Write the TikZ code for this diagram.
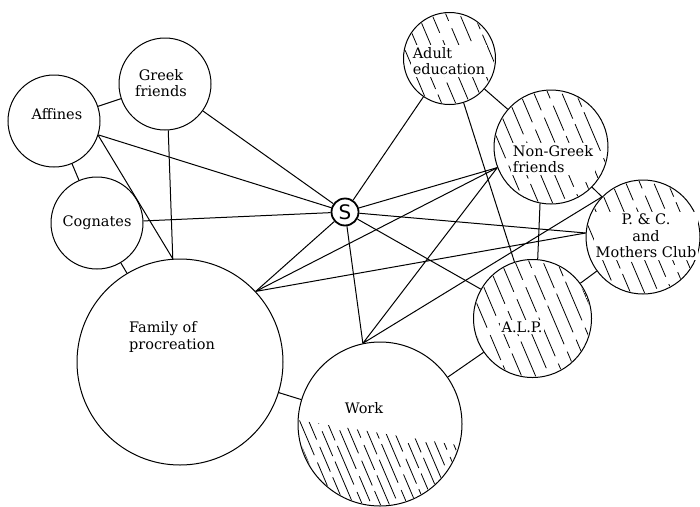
\documentclass[tikz,border=0pt]{standalone}
\usepackage{fontspec}
\setmainfont{DejaVu Serif}
\setsansfont{DejaVu Sans}

\begin{document}
\begin{tikzpicture}[x=1pt,y=-1pt,line width=1pt,
  grp/.style={draw,circle,inner sep=0pt},
  lbl/.style={font=\fontsize{14.5}{16.5}\selectfont,inner sep=1pt},
  hlbl/.style={lbl,fill=white,inner sep=2pt},
  hatch/.style={line width=0.8pt,dash pattern=on 42pt off 8pt on 27pt off 6pt}]
\useasboundingbox (0,0) rectangle (700,506);
\node[grp,minimum size=92pt] (aff) at (54,121) {};
\node[grp,minimum size=92pt] (grf) at (165,84) {};
\node[grp,minimum size=92pt] (cog) at (97,223) {};
\node[grp,minimum size=206pt] (fam) at (180,362) {};
\node[grp,minimum size=164pt] (wrk) at (380,424) {};
\node[grp,minimum size=92pt] (adu) at (449.5,58.5) {};
\node[grp,minimum size=114pt] (ngf) at (551,147) {};
\node[grp,minimum size=114pt] (pcm) at (643,237) {};
\node[grp,minimum size=118pt] (alp) at (532.5,318.5) {};
\node[grp,line width=1.8pt,minimum size=27pt,font=\sffamily\fontsize{20}{20}\selectfont] (s) at (345,212) {S};

\foreach \n/\r in {adu/45,ngf/56,pcm/56,alp/58}{
  \begin{scope}
  \clip (\n.center) circle (\r);
  \foreach \d [count=\i] in {-116,-102,...,62}
    \draw[hatch,dash phase=\i*13pt] (\n.center) ++(\d,-\r) -- ++(0.85*\r,2*\r);
  \end{scope}}
\begin{scope}
\clip (wrk.center) circle (81);
\clip (290,419) -- (470,447) -- (470,510) -- (290,510) -- cycle;
\foreach \d [count=\i] in {-150,-141,...,80}
  \draw[hatch,dash phase=\i*17pt] (wrk.center) ++(\d,-82) -- ++(70,164);
\end{scope}

\node[lbl] (aff-t) at (57,114) {Affines};
\node[lbl,align=center] (grf-t) at (161,83) {Greek\\friends};
\node[lbl] (cog-t) at (97,223) {Cognates};
\node[lbl,align=left] (fam-t) at (172,337) {Family of\\procreation};
\node[lbl] (wrk-t) at (364,408) {Work};
\node[hlbl,align=left] (adu-t) at (449,61) {Adult\\education};
\node[hlbl,align=left] (ngf-t) at (553,159) {Non-Greek\\friends};
\node[hlbl,align=center] (pcm-t) at (646,236) {P. \& C.\\and\\Mothers Club};
\node[hlbl] (alp-t) at (522,327) {A.L.P.};

\draw (aff)--(grf) (aff)--(cog) (cog)--(fam) (fam)--(wrk) (wrk)--(alp)
(alp)--(pcm) (ngf)--(pcm) (adu)--(ngf) (adu)--(alp) (ngf.-101)--(alp.85);
\draw (aff.-18)--(fam.94) (grf.-86)--(fam.94);
\draw (s)--(aff) (s)--(grf) (s)--(cog) (s)--(adu) (s)--(alp)
(s)--(fam.43) (s)--(wrk.102) (s)--(ngf.201) (s)--(pcm.176);
\draw (fam.43)--(ngf.201) (fam.43)--(pcm.176)
(wrk.102)--(ngf.201) (wrk.102)--(pcm.136);
\end{tikzpicture}
\end{document}
